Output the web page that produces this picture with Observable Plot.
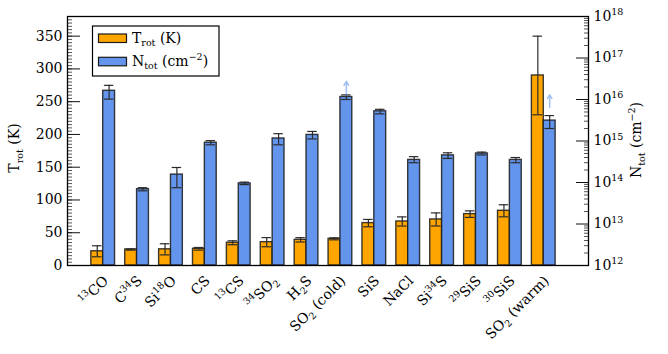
<!DOCTYPE html>
<html>
<head>
<meta charset="utf-8">
<script src="https://cdn.jsdelivr.net/npm/d3@7"></script>
<script src="https://cdn.jsdelivr.net/npm/@observablehq/plot@0.6"></script>
<style>
  html, body { margin: 0; padding: 0; background: white; }
  #chart { width: 668px; height: 354px; }
</style>
</head>
<body>
<div id="chart"></div>
<script>
// ---- data ----
const categories = ["^{13}CO", "C^{34}S", "Si^{18}O", "CS", "^{13}CS", "^{34}SO_{2}", "H_{2}S",
  "SO_{2} (cold)", "SiS", "NaCl", "Si^{34}S", "^{29}SiS", "^{30}SiS", "SO_{2} (warm)"];
const tRot = [21.7, 24.4, 24.7, 25.5, 34.7, 35.6, 39.2, 40.7, 64.7, 67.2, 70.3, 78.4, 83.5, 290];
const tErr = [8.4, 1.0, 8.5, 2.0, 3.0, 7.0, 3.3, 1.5, 5.6, 7.0, 10.0, 5.0, 9.2, 60];
const nTot = [1.62e16, 6.9e13, 1.55e14, 9.1e14, 9.5e13, 1.15e15, 1.4e15, 1.15e16, 5.2e15, 3.5e14, 4.5e14, 5.0e14, 3.5e14, 3.1e15];
const nLo  = [1.02e16, 6.3e13, 7.5e13, 8.1e14, 8.9e13, 8.1e14, 1.12e15, 1.0e16, 4.5e15, 3.0e14, 3.8e14, 4.6e14, 3.0e14, 2.0e15];
const nHi  = [2.19e16, 7.5e13, 2.3e14, 1.02e15, 1.02e14, 1.5e15, 1.7e15, 1.29e16, 5.8e15, 4.2e14, 5.2e14, 5.4e14, 4.0e14, 4.1e15];
// lower-limit arrows (column densities)
const limitNames = ["SO_{2} (cold)", "SO_{2} (warm)"];
const limitFrom = [1.26e16, 6.4e15];
const limitTo = [2.75e16, 1.3e16];
const leftTicks = [0, 50, 100, 150, 200, 250, 300, 350];
const rightDecades = [12, 13, 14, 15, 16, 17, 18];
const legendLabels = ["T_{rot} (K)", "N_{tot} (cm^{−2})"];
const leftTitle = "T_{rot} (K)";
const rightTitle = "N_{tot} (cm^{−2})";

// ---- scales helpers ----
const yMax = 380, logMin = 12, logMax = 18;
const toY = n => (Math.log10(n) - logMin) / (logMax - logMin) * yMax;
const barW = 0.35, capHalf = 0.14;
const orange = "#FFA500", blue = "#6495ED";

const rows = categories.map((name, i) => ({
  i, name, t: tRot[i], te: tErr[i], n: nTot[i], lo: nLo[i], hi: nHi[i]
}));
const limits = limitNames.map((name, k) => ({i: categories.indexOf(name), from: limitFrom[k], to: limitTo[k]}));

const leftMinor = d3.range(0, yMax, 5);
const rightMajor = rightDecades.map(e => toY(Math.pow(10, e)));
const rightMinor = [];
for (const e of rightDecades.slice(0, -1)) for (let k = 2; k <= 9; k++) rightMinor.push(toY(k * Math.pow(10, e)));

const barStroke = {stroke: "#1a1a1a", strokeWidth: 1.4, strokeOpacity: 0.85};
const errStyle = {stroke: "#2b2b2b", strokeWidth: 1.2};

const svg = Plot.plot({
  width: 668, height: 354,
  marginLeft: 67, marginRight: 80, marginTop: 16, marginBottom: 89,
  style: {fontFamily: "DejaVu Serif", fontSize: "14px", background: "white", color: "black"},
  x: {type: "linear", domain: [-1.053, 14.32], axis: null},
  y: {type: "linear", domain: [0, yMax], label: null},
  marks: [
    Plot.rect(rows, {x1: d => d.i - barW, x2: d => d.i, y1: 0, y2: "t", fill: orange, ...barStroke}),
    Plot.rect(rows, {x1: d => d.i, x2: d => d.i + barW, y1: 0, y2: d => toY(d.n), fill: blue, ...barStroke}),
    // T error bars
    Plot.ruleX(rows, {x: d => d.i - barW / 2, y1: d => d.t - d.te, y2: d => d.t + d.te, ...errStyle}),
    Plot.ruleY(rows, {y: d => d.t - d.te, x1: d => d.i - barW / 2 - capHalf, x2: d => d.i - barW / 2 + capHalf, ...errStyle}),
    Plot.ruleY(rows, {y: d => d.t + d.te, x1: d => d.i - barW / 2 - capHalf, x2: d => d.i - barW / 2 + capHalf, ...errStyle}),
    // N error bars
    Plot.ruleX(rows, {x: d => d.i + barW / 2, y1: d => toY(d.lo), y2: d => toY(d.hi), ...errStyle}),
    Plot.ruleY(rows, {y: d => toY(d.lo), x1: d => d.i + barW / 2 - capHalf, x2: d => d.i + barW / 2 + capHalf, ...errStyle}),
    Plot.ruleY(rows, {y: d => toY(d.hi), x1: d => d.i + barW / 2 - capHalf, x2: d => d.i + barW / 2 + capHalf, ...errStyle}),
    // lower-limit arrows
    Plot.arrow(limits, {x: d => d.i + barW / 2, y1: d => toY(d.from), y2: d => toY(d.to),
      stroke: blue, strokeOpacity: 0.6, strokeWidth: 1.5, headLength: 7}),
    // left axis
    Plot.axisY(leftMinor, {anchor: "left", tickSize: -5, tickFormat: () => "", stroke: "#555", label: null}),
    Plot.axisY(leftTicks, {anchor: "left", tickSize: -13, tickFormat: () => "", stroke: "#111", label: null}),
    Plot.axisY(leftTicks, {anchor: "left", tickSize: 0, tickPadding: 5, fontSize: 14, label: null}),
    // right axis
    Plot.axisY(rightMinor, {anchor: "right", tickSize: -5, tickFormat: () => "", stroke: "#555", label: null}),
    Plot.axisY(rightMajor, {anchor: "right", tickSize: -13, tickFormat: () => "", stroke: "#111", label: null}),
    Plot.axisY(rightMajor, {anchor: "right", tickSize: 0, tickPadding: 5, fontSize: 14, label: null,
      tickFormat: d => `10^{${Math.round(d / yMax * (logMax - logMin) + logMin)}}`}),
    // rotated category labels under each pair of bars
    Plot.text(rows, {x: "i", y: 0, text: "name", rotate: -45, textAnchor: "end", lineAnchor: "top",
      dx: -1, dy: 9, fontSize: 14, fill: "black", ariaLabel: "x-axis tick label"}),
    Plot.frame({stroke: "black", strokeWidth: 1.3})
  ]
});
document.getElementById("chart").appendChild(svg);

// ---- rich text (sub/superscripts) ----
const NS = "http://www.w3.org/2000/svg";
function rich(el, str, fs) {
  while (el.firstChild) el.removeChild(el.firstChild);
  const parts = str.split(/(\^\{[^}]*\}|_\{[^}]*\})/).filter(s => s.length);
  let shift = 0;
  for (const p of parts) {
    const t = document.createElementNS(NS, "tspan");
    let target = 0, txt = p, small = false;
    if (p.startsWith("^{")) { target = -0.4 * fs; txt = p.slice(2, -1); small = true; }
    else if (p.startsWith("_{")) { target = 0.25 * fs; txt = p.slice(2, -1); small = true; }
    if (target - shift !== 0) t.setAttribute("dy", (target - shift).toFixed(2));
    shift = target;
    if (small) t.setAttribute("font-size", (0.68 * fs).toFixed(1));
    t.textContent = txt;
    el.appendChild(t);
  }
}
svg.querySelectorAll("text").forEach(el => {
  const s = el.textContent;
  if (/[\^_]\{/.test(s)) {
    const fs = parseFloat(getComputedStyle(el).fontSize) || 14;
    rich(el, s, fs);
  }
});

// ---- axis titles and legend ----
const root = d3.select(svg);
function addText(parent, x, y, str, {rotate = 0, anchor = "start", fs = 14} = {}) {
  const t = parent.append("text")
    .attr("x", x).attr("y", y)
    .attr("transform", `rotate(${rotate} ${x} ${y})`)
    .attr("text-anchor", anchor)
    .attr("font-family", "DejaVu Serif")
    .attr("font-size", fs)
    .attr("fill", "black");
  rich(t.node(), str, fs);
  return t;
}
addText(root, 19, 148, leftTitle, {rotate: -90, anchor: "middle", fs: 14});
addText(root, 641, 140, rightTitle, {rotate: -90, anchor: "middle", fs: 14});

const lg = root.append("g").attr("aria-label", "legend");
lg.append("rect").attr("x", 92.5).attr("y", 26).attr("width", 126.5).attr("height", 50)
  .attr("fill", "white").attr("stroke", "black").attr("stroke-width", 1.2);
[orange, blue].forEach((c, k) => {
  lg.append("rect").attr("x", 98.5).attr("y", 34 + k * 23.3).attr("width", 28).attr("height", 8.5)
    .attr("fill", c).attr("stroke", "#1a1a1a").attr("stroke-width", 1.2);
  addText(lg, 132, 42.5 + k * 23.3, legendLabels[k], {fs: 14});
});
</script>
</body>
</html>
